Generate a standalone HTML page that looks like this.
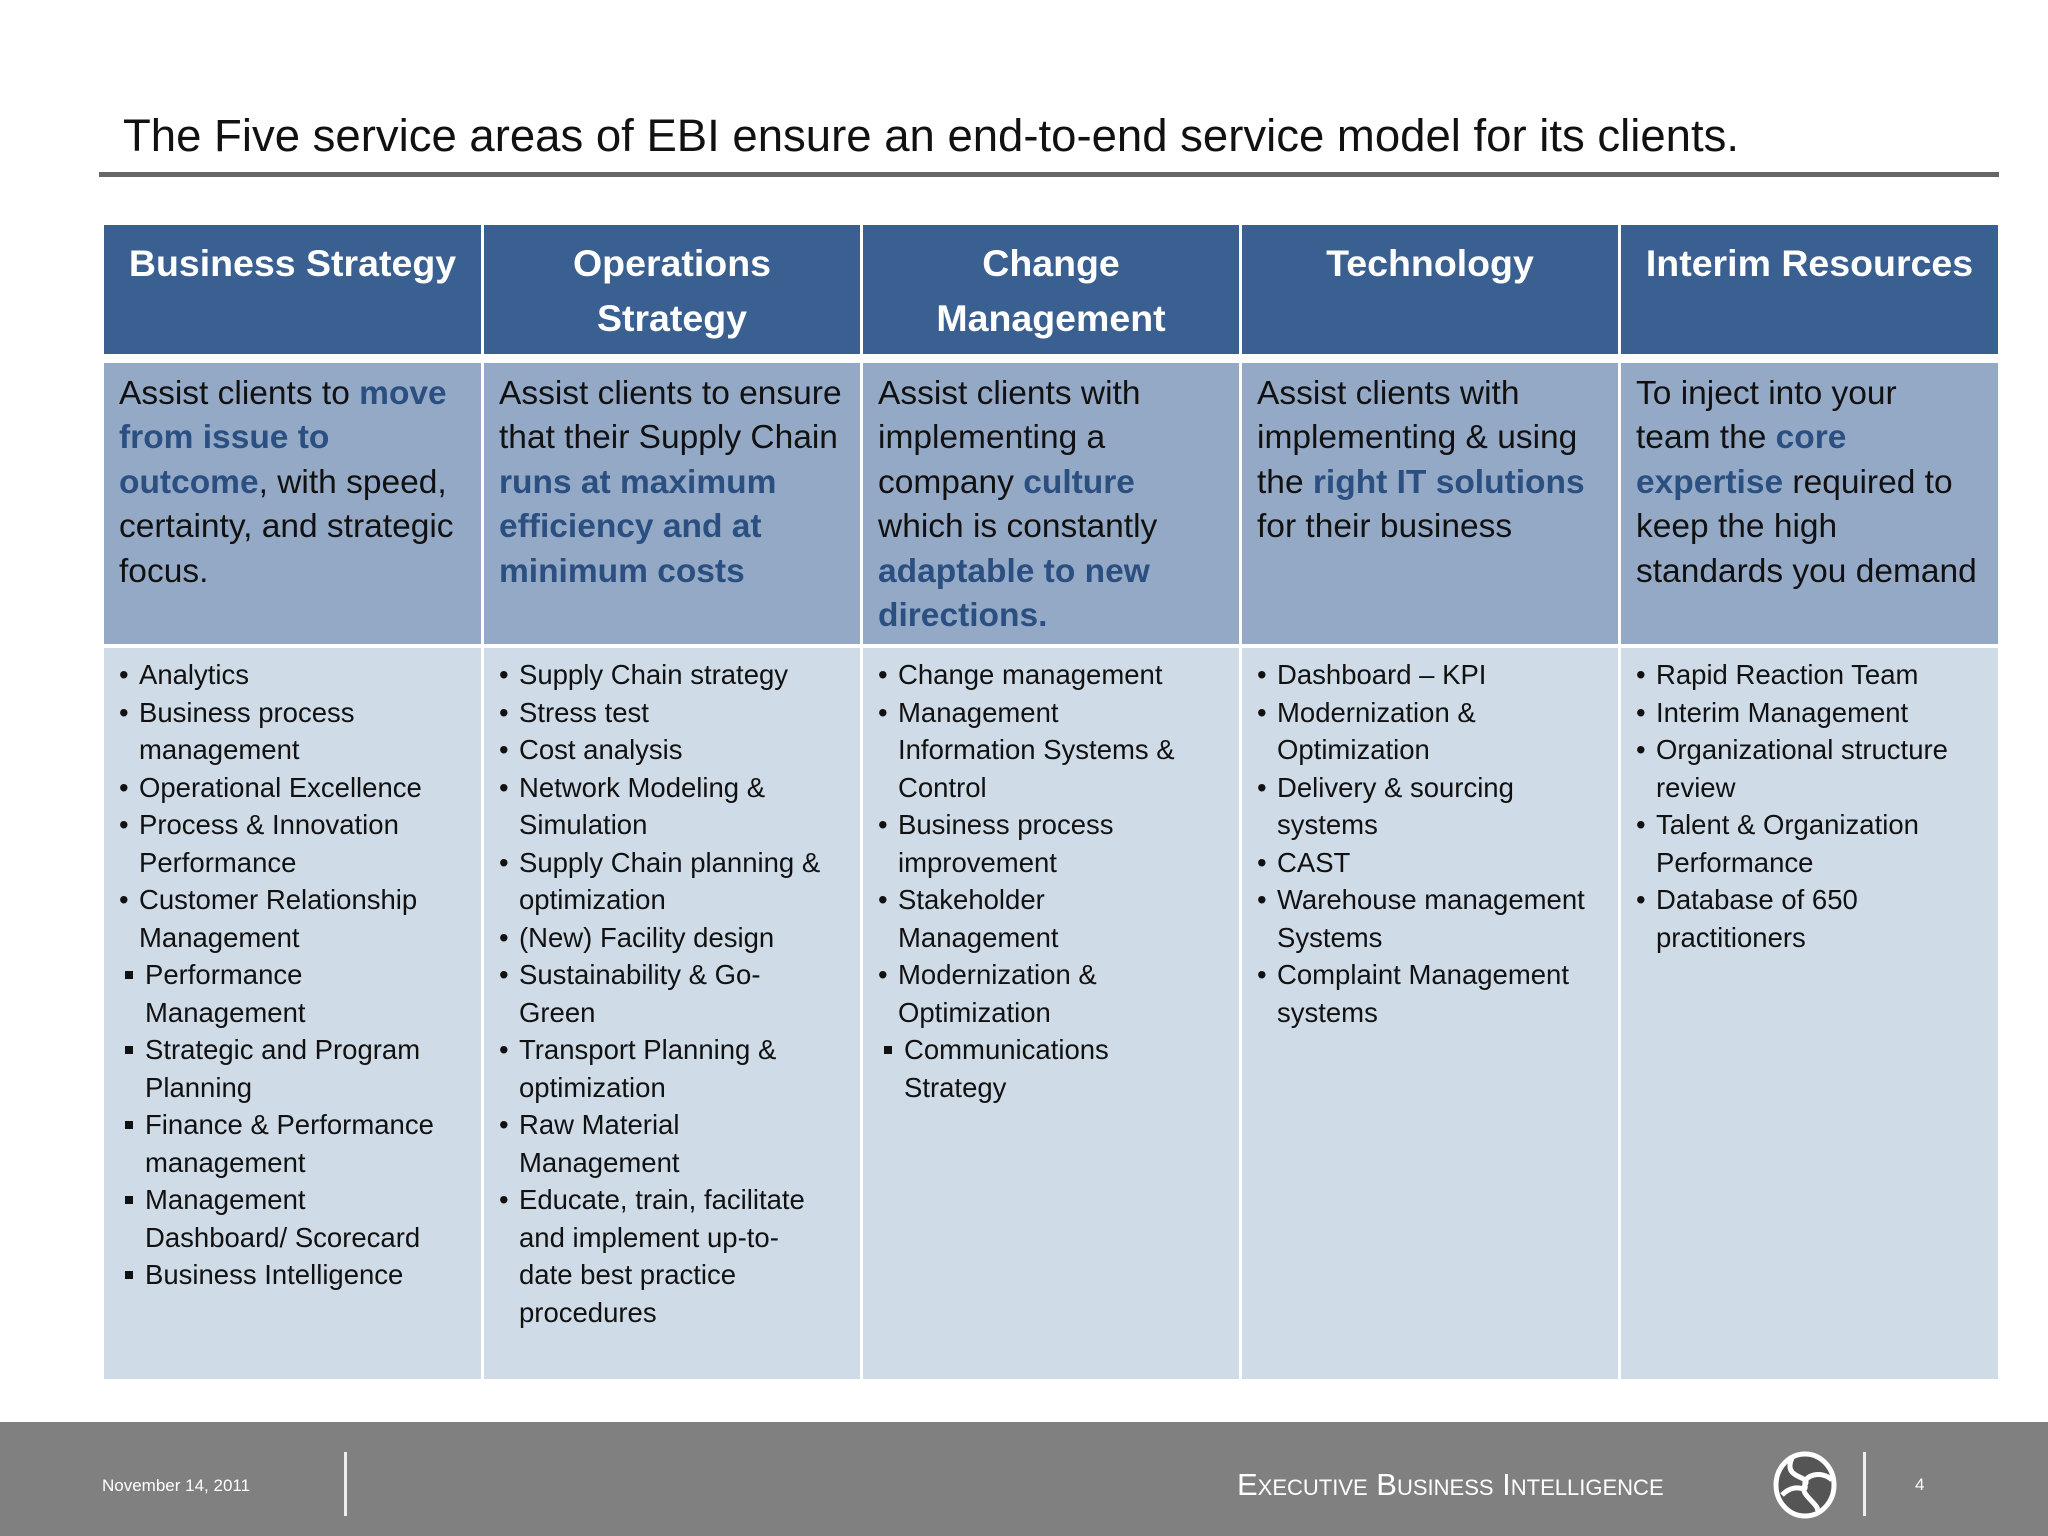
<!DOCTYPE html>
<html><head><meta charset="utf-8"><style>
body{margin:0;width:2048px;height:1536px;background:#fff;position:relative;overflow:hidden;font-family:"Liberation Sans",sans-serif}
.abs{position:absolute}
.hd{background:#3a5f91;color:#fff;font-weight:bold;font-size:37.5px;line-height:55px;text-align:center;padding-top:11px;box-sizing:border-box;height:129px;top:225px;white-space:nowrap}
.r2{background:#94a9c6;color:#111;font-size:33.5px;line-height:44.4px;top:363px;height:281px;padding:9px 0 0 15px;box-sizing:border-box;white-space:nowrap}
.r2 b{color:#2a4f80}
.r3{background:#cfdbe7;color:#111;font-size:27.5px;line-height:37.5px;top:648px;height:731px;padding:8px 0 0 15px;box-sizing:border-box;white-space:nowrap}
.li{padding-left:20px;position:relative}
.li:before{content:"•";position:absolute;left:0}
.sq{padding-left:26px;position:relative}
.sq:before{content:"";position:absolute;left:6px;top:15px;width:8px;height:8px;background:#111}
</style></head><body>
<div class="abs" style="left:123px;top:110px;font-size:45.5px;color:#111;white-space:nowrap">The Five service areas of EBI ensure an end-to-end service model for its clients.</div>
<div class="abs" style="left:99px;top:172px;width:1900px;height:5px;background:#666"></div>

<div class="abs hd" style="left:104px;width:377px">Business Strategy</div>
<div class="abs hd" style="left:484px;width:376px">Operations<br>Strategy</div>
<div class="abs hd" style="left:863px;width:376px">Change<br>Management</div>
<div class="abs hd" style="left:1242px;width:376px">Technology</div>
<div class="abs hd" style="left:1621px;width:377px">Interim Resources</div>

<div class="abs r2" style="left:104px;width:377px">Assist clients to <b>move<br>from issue to<br>outcome</b>, with speed,<br>certainty, and strategic<br>focus.</div>
<div class="abs r2" style="left:484px;width:376px">Assist clients to ensure<br>that their Supply Chain<br><b>runs at maximum<br>efficiency and at<br>minimum costs</b></div>
<div class="abs r2" style="left:863px;width:376px">Assist clients with<br>implementing a<br>company <b>culture</b><br>which is constantly<br><b>adaptable to new<br>directions.</b></div>
<div class="abs r2" style="left:1242px;width:376px">Assist clients with<br>implementing &amp; using<br>the <b>right IT solutions</b><br>for their business</div>
<div class="abs r2" style="left:1621px;width:377px">To inject into your<br>team the <b>core<br>expertise</b> required to<br>keep the high<br>standards you demand</div>

<div class="abs r3" style="left:104px;width:377px">
<div class="li">Analytics</div><div class="li">Business process<br>management</div><div class="li">Operational Excellence</div><div class="li">Process &amp; Innovation<br>Performance</div><div class="li">Customer Relationship<br>Management</div><div class="sq">Performance<br>Management</div><div class="sq">Strategic and Program<br>Planning</div><div class="sq">Finance &amp; Performance<br>management</div><div class="sq">Management<br>Dashboard/ Scorecard</div><div class="sq">Business Intelligence</div></div>
<div class="abs r3" style="left:484px;width:376px">
<div class="li">Supply Chain strategy</div><div class="li">Stress test</div><div class="li">Cost analysis</div><div class="li">Network Modeling &amp;<br>Simulation</div><div class="li">Supply Chain planning &amp;<br>optimization</div><div class="li">(New) Facility design</div><div class="li">Sustainability &amp; Go-<br>Green</div><div class="li">Transport Planning &amp;<br>optimization</div><div class="li">Raw Material<br>Management</div><div class="li">Educate, train, facilitate<br>and implement up-to-<br>date best practice<br>procedures</div></div>
<div class="abs r3" style="left:863px;width:376px">
<div class="li">Change management</div><div class="li">Management<br>Information Systems &amp;<br>Control</div><div class="li">Business process<br>improvement</div><div class="li">Stakeholder<br>Management</div><div class="li">Modernization &amp;<br>Optimization</div><div class="sq">Communications<br>Strategy</div></div>
<div class="abs r3" style="left:1242px;width:376px">
<div class="li">Dashboard – KPI</div><div class="li">Modernization &amp;<br>Optimization</div><div class="li">Delivery &amp; sourcing<br>systems</div><div class="li">CAST</div><div class="li">Warehouse management<br>Systems</div><div class="li">Complaint Management<br>systems</div></div>
<div class="abs r3" style="left:1621px;width:377px">
<div class="li">Rapid Reaction Team</div><div class="li">Interim Management</div><div class="li">Organizational structure<br>review</div><div class="li">Talent &amp; Organization<br>Performance</div><div class="li">Database of 650<br>practitioners</div></div>

<div class="abs" style="left:0;top:1422px;width:2048px;height:114px;background:#808080"></div>
<div class="abs" style="left:102px;top:1476px;font-size:17px;color:#fff">November 14, 2011</div>
<div class="abs" style="left:344px;top:1452px;width:3px;height:64px;background:#eee"></div>
<div class="abs" style="left:1237px;top:1467px;font-size:31px;color:#fff;font-variant:small-caps">Executive Business Intelligence</div>
<svg class="abs" style="left:1772px;top:1450px" width="66" height="70" viewBox="0 0 66 70"><ellipse cx="33" cy="35" rx="29" ry="31" fill="#555" stroke="#fff" stroke-width="5"/><path d="M20 8 C10 30 40 25 33 35 C26 45 50 55 45 62 M10 45 C25 30 35 45 33 35 C31 25 50 20 60 30" fill="none" stroke="#fff" stroke-width="5"/></svg>
<div class="abs" style="left:1863px;top:1452px;width:3px;height:64px;background:#eee"></div>
<div class="abs" style="left:1915px;top:1475px;font-size:17px;color:#fff">4</div>
</body></html>
